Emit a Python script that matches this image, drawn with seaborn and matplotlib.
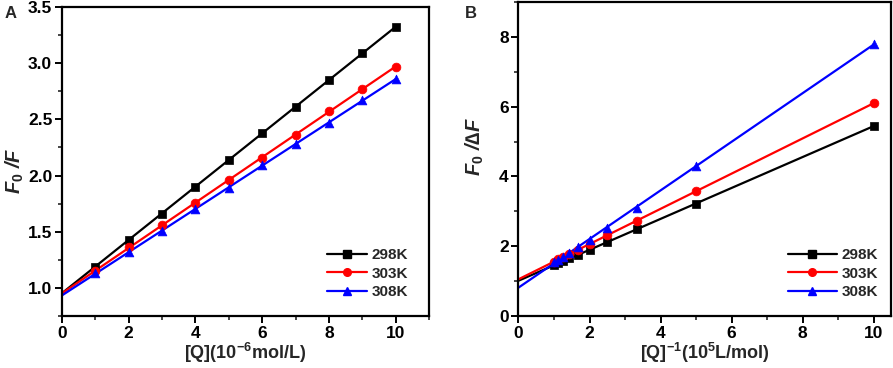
import numpy as np
import pandas as pd
import matplotlib
matplotlib.use("Agg")
import matplotlib.pyplot as plt
import seaborn as sns
from matplotlib.ticker import MultipleLocator

sns.set_style("ticks")
plt.rcParams['font.family'] = ['Liberation Sans', 'DejaVu Sans']
plt.rcParams['font.weight'] = 'bold'
plt.rcParams['mathtext.fontset'] = 'custom'
plt.rcParams['mathtext.rm'] = 'Liberation Sans:bold'
plt.rcParams['mathtext.it'] = 'Liberation Sans:italic:bold'
plt.rcParams['mathtext.bf'] = 'Liberation Sans:bold'

# ---- data ----
temps = ["298K", "303K", "308K"]
colors = ["black", "red", "blue"]
markers = ["s", "o", "^"]

# Panel A: Stern-Volmer
q_conc = [1, 2, 3, 4, 5, 6, 7, 8, 9, 10]
a_298 = [1.19, 1.43, 1.66, 1.90, 2.14, 2.38, 2.61, 2.85, 3.09, 3.32]
a_303 = [1.15, 1.36, 1.56, 1.76, 1.96, 2.16, 2.36, 2.57, 2.77, 2.97]
a_308 = [1.13, 1.32, 1.51, 1.70, 1.89, 2.09, 2.28, 2.47, 2.67, 2.86]

# Panel B: modified Stern-Volmer
q_inv = [10.0, 5.0, 3.33, 2.5, 2.0, 1.67, 1.43, 1.25, 1.11, 1.0]
b_298 = [5.45, 3.22, 2.48, 2.11, 1.89, 1.75, 1.65, 1.57, 1.51, 1.46]
b_303 = [6.10, 3.58, 2.73, 2.32, 2.05, 1.88, 1.78, 1.69, 1.62, 1.56]
b_308 = [7.80, 4.29, 3.10, 2.52, 2.18, 1.99, 1.80, 1.70, 1.61, 1.55]

fig = plt.figure(figsize=(8.93, 3.68), dpi=100)
axA = fig.add_axes([0.0694, 0.1413, 0.411, 0.8397])
axB = fig.add_axes([0.5806, 0.1413, 0.4177, 0.8533])


def draw(ax, xs, series, line_x):
    for ys, lab, c, m in zip(series, temps, colors, markers):
        df = pd.DataFrame({"x": xs, "y": ys})
        slope, icpt = np.polyfit(xs, ys, 1)
        fit = pd.DataFrame({"x": line_x, "y": [slope * v + icpt for v in line_x]})
        sns.lineplot(data=fit, x="x", y="y", ax=ax, color=c, lw=1.6)
        sns.scatterplot(data=df, x="x", y="y", ax=ax, color=c, marker=m,
                        s=40, edgecolor=c, linewidth=0.5, zorder=3)
    handles = [plt.Line2D([], [], color=c, marker=m, ms=5.5, lw=1.6)
               for c, m in zip(colors, markers)]
    return handles


hA = draw(axA, q_conc, [a_298, a_303, a_308], [0, 10])
hB = draw(axB, q_inv, [b_298, b_303, b_308], [0, 10])

TICK = 12.5
for ax in (axA, axB):
    for sp in ax.spines.values():
        sp.set_linewidth(1.6)
        sp.set_color("black")
    ax.tick_params(axis="both", which="major", direction="out", length=5,
                   width=1.4, labelsize=TICK, pad=2, colors="black")
    ax.tick_params(axis="both", which="minor", direction="out", length=3, width=1.2)

axA.set_xlim(0, 11)
axA.set_ylim(0.75, 3.5)
axA.xaxis.set_minor_locator(MultipleLocator(1))
axA.yaxis.set_minor_locator(MultipleLocator(0.25))
axA.set_xticks([0, 2, 4, 6, 8, 10])
axA.set_xticklabels(["0", "2", "4", "6", "8", "10"], fontweight="bold", fontsize=TICK)
axA.set_yticks([1.0, 1.5, 2.0, 2.5, 3.0, 3.5])
axA.set_yticklabels(["1.0", "1.5", "2.0", "2.5", "3.0", "3.5"], fontweight="bold", fontsize=TICK)
axA.set_xlabel(r"[Q](10$^{\mathrm{-6}}$mol/L)", fontsize=13, fontweight="bold", labelpad=0)
axA.set_ylabel(r"$F_0$ /F", fontsize=14.5, fontstyle="italic", fontweight="bold")
axA.yaxis.set_label_coords(-0.098, 0.47)

axB.set_xlim(0, 10.5)
axB.set_ylim(0, 9)
axB.set_xticks([0, 2, 4, 6, 8, 10])
axB.set_xticklabels(["0", "2", "4", "6", "8", "10"], fontweight="bold", fontsize=TICK)
axB.xaxis.set_minor_locator(MultipleLocator(1))
axB.set_yticks([0, 2, 4, 6, 8])
axB.set_yticklabels(["0", "2", "4", "6", "8"], fontweight="bold", fontsize=TICK)
axB.yaxis.set_minor_locator(MultipleLocator(1))
axB.set_xlabel(r"[Q]$^{\mathrm{-1}}$(10$^{\mathrm{5}}$L/mol)", fontsize=13, fontweight="bold", labelpad=0)
axB.set_ylabel(r"$F_0$ /∆F", fontsize=14.5, fontstyle="italic", fontweight="bold")
axB.yaxis.set_label_coords(-0.087, 0.54)

legA = axA.legend(hA, temps, loc="lower right", frameon=False,
                  prop={"weight": "bold", "size": 11}, handlelength=2.6,
                  handletextpad=0.3, labelspacing=0.3,
                  bbox_to_anchor=(0.98, 0.01))
legB = axB.legend(hB, temps, loc="lower right", frameon=False,
                  prop={"weight": "bold", "size": 11}, handlelength=3.2,
                  handletextpad=0.3, labelspacing=0.3,
                  bbox_to_anchor=(1.0, 0.01))

fig.text(5 / 893, 1 - 14 / 368, "A", fontsize=12, fontweight="bold", va="center")
fig.text(465 / 893, 1 - 14 / 368, "B", fontsize=12, fontweight="bold", va="center")

fig.savefig("out.png", dpi=100)
